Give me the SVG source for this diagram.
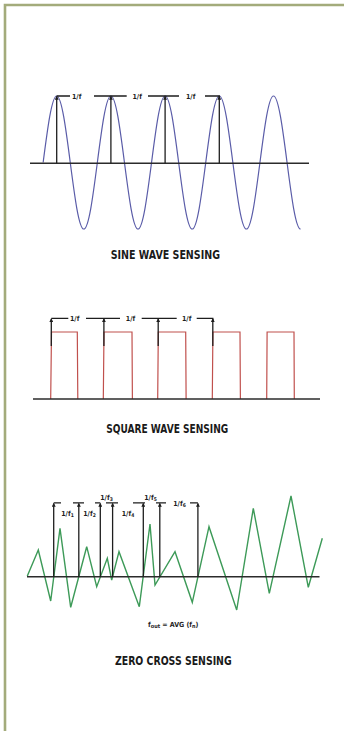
<svg xmlns="http://www.w3.org/2000/svg" width="344" height="731" viewBox="0 0 344 731">
<style>
.axis{stroke:#2b2b2b;stroke-width:1.6;fill:none}
.arr{stroke:#1e1e1e;stroke-width:1.3;fill:none}
.arrh{stroke:#1e1e1e;stroke-width:1.3;fill:none;marker-end:url(#ah)}
.lbl{font-family:"Liberation Sans Narrow","DejaVu Sans Condensed","Liberation Sans",sans-serif;font-weight:bold;font-size:7px;fill:#1e1e1e;text-anchor:middle}
.ttl{font-family:"Liberation Sans Narrow","DejaVu Sans Condensed","Liberation Sans",sans-serif;font-weight:bold;font-size:13px;fill:#1a1a1a;text-anchor:middle}
</style>
<defs>
<marker id="ah" viewBox="0 0 6 6" refX="5" refY="3" markerWidth="4" markerHeight="4" orient="auto" markerUnits="userSpaceOnUse">
<path d="M0,0 L6,3 L0,6 z" fill="#1e1e1e"/>
</marker>
</defs>
<rect width="344" height="731" fill="#ffffff"/>
<g id="border" stroke="#a3ab7b" stroke-width="2.6" fill="none">
<path d="M344,5 H5 V731"/>
</g>

<g id="sine-wave">
<path fill="none" stroke="#5a5ca8" stroke-width="1.2" d="M43.15,162.5
c4.419,-34.07 8.646,-66.5 13.55,-66.5 c4.904,0 9.131,32.43 13.55,66.5 c4.419,34.07 8.646,66.5 13.55,66.5 c4.904,0 9.131,-32.43 13.55,-66.5
c4.419,-34.07 8.646,-66.5 13.55,-66.5 c4.904,0 9.131,32.43 13.55,66.5 c4.419,34.07 8.646,66.5 13.55,66.5 c4.904,0 9.131,-32.43 13.55,-66.5
c4.419,-34.07 8.646,-66.5 13.55,-66.5 c4.904,0 9.131,32.43 13.55,66.5 c4.419,34.07 8.646,66.5 13.55,66.5 c4.904,0 9.131,-32.43 13.55,-66.5
c4.419,-34.07 8.646,-66.5 13.55,-66.5 c4.904,0 9.131,32.43 13.55,66.5 c4.419,34.07 8.646,66.5 13.55,66.5 c4.904,0 9.131,-32.43 13.55,-66.5
c4.419,-34.07 8.646,-66.5 13.55,-66.5 c4.904,0 9.131,32.43 13.55,66.5 c4.419,34.07 8.646,66.5 13.55,66.5"/>
<line class="axis" x1="30" y1="163.3" x2="309" y2="163.3"/>
</g>
<g id="sine-markers">
<line class="arrh" x1="56.7" y1="163.3" x2="56.7" y2="96.5"/>
<line class="arrh" x1="110.9" y1="163.3" x2="110.9" y2="96.5"/>
<line class="arrh" x1="165.1" y1="163.3" x2="165.1" y2="96.5"/>
<line class="arrh" x1="219.3" y1="163.3" x2="219.3" y2="96.5"/>
<path class="arr" d="M56.7,96 H70 M94,96 H126.7 M148,96 H179 M205,96 H219.3 V99"/>
<text class="lbl" x="76.7" y="98.5">1/f</text>
<text class="lbl" x="137.2" y="98.5">1/f</text>
<text class="lbl" x="190.7" y="98.5">1/f</text>
<text class="ttl" x="165.3" y="258.5" textLength="109.3" lengthAdjust="spacingAndGlyphs">SINE WAVE SENSING</text>
</g>

<g id="square-wave">
<path fill="none" stroke="#c0504d" stroke-width="1.2" d="M50.7,399 L51.5,332 H77.3 L77.8,399 M103.3,399 L104,332 H132 L132.4,399 M157.7,399 L158.3,332 H185.7 L186.1,399 M212.3,399 L212.9,332 H240 L240.4,399 M266.7,399 L267.1,332 H294 L294.3,399"/>
<line class="axis" x1="33" y1="399" x2="320" y2="399"/>
</g>
<g id="square-markers">
<line class="arrh" x1="51.3" y1="346" x2="51.3" y2="318.8"/>
<line class="arrh" x1="103.9" y1="346" x2="103.9" y2="318.8"/>
<line class="arrh" x1="158.2" y1="346" x2="158.2" y2="318.8"/>
<line class="arrh" x1="212.8" y1="346" x2="212.8" y2="318.8"/>
<path class="arr" d="M51.3,318.3 H68.3 M86,318.3 H120 M141.7,318.3 H176.7 M196.7,318.3 H212.8 V322"/>
<text class="lbl" x="74.7" y="320.8">1/f</text>
<text class="lbl" x="130.5" y="320.8">1/f</text>
<text class="lbl" x="186.7" y="320.8">1/f</text>
<text class="ttl" x="167.2" y="432.7" textLength="122" lengthAdjust="spacingAndGlyphs">SQUARE WAVE SENSING</text>
</g>

<g id="zero-cross-wave">
<polyline fill="none" stroke="#3d9a58" stroke-width="1.4" stroke-linejoin="miter" points="27.3,576 38.3,550 50.7,601 60,528.3 70.7,607.3 86.7,546.7 96.7,586.7 107.3,558.3 111.7,580 119,551.7 139.3,606.7 150,524 155,585 175,551.7 192.3,602.3 209,526.7 236.7,610 253.3,508.3 269.3,593.3 291,496 308.3,587.3 322.3,538.3"/>
<line class="axis" x1="27" y1="576.7" x2="319.5" y2="576.7"/>
</g>
<g id="zero-cross-markers">
<line class="arrh" x1="53.7" y1="576.7" x2="53.7" y2="503.5"/>
<line class="arrh" x1="78.8" y1="576.7" x2="78.8" y2="503.5"/>
<line class="arrh" x1="100.3" y1="576.7" x2="100.3" y2="503.5"/>
<line class="arrh" x1="112.6" y1="576.7" x2="112.6" y2="503.5"/>
<line class="arrh" x1="143.3" y1="576.7" x2="143.3" y2="503.5"/>
<line class="arrh" x1="159.8" y1="576.7" x2="159.8" y2="503.5"/>
<line class="arrh" x1="197.9" y1="576.7" x2="197.9" y2="503.5"/>
<path class="arr" d="M53.7,502.8 H61 M73,502.8 H84 M95,502.8 H100.3 M106,502.8 H118 M133,502.8 H145 M156,502.8 H166 M190,502.8 H197.9"/>
<text class="lbl" x="67.5" y="516">1/f<tspan font-size="5" dy="1">1</tspan></text>
<text class="lbl" x="89.5" y="516">1/f<tspan font-size="5" dy="1">2</tspan></text>
<text class="lbl" x="106.5" y="499.5">1/f<tspan font-size="5" dy="1">3</tspan></text>
<text class="lbl" x="128" y="516">1/f<tspan font-size="5" dy="1">4</tspan></text>
<text class="lbl" x="150.5" y="499.5">1/f<tspan font-size="5" dy="1">5</tspan></text>
<text class="lbl" x="179.5" y="505.5">1/f<tspan font-size="5" dy="1">6</tspan></text>
<text class="lbl" x="173.3" y="627" font-size="8">f<tspan font-size="5.5" dy="1.2">out</tspan><tspan dy="-1.2"> = AVG (f</tspan><tspan font-size="5.5" dy="1.2">n</tspan><tspan dy="-1.2">)</tspan></text>
<text class="ttl" x="173.3" y="665" textLength="116.7" lengthAdjust="spacingAndGlyphs">ZERO CROSS SENSING</text>
</g>
</svg>
